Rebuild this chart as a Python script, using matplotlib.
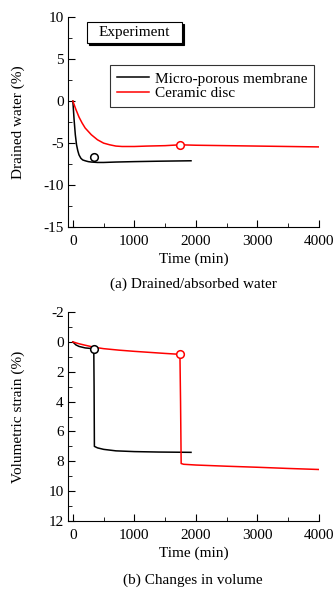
import matplotlib
matplotlib.use("Agg")
import matplotlib.pyplot as plt
from matplotlib.ticker import MultipleLocator
from matplotlib.patches import Rectangle

plt.rcParams['font.family'] = ['Liberation Serif', 'DejaVu Serif']
plt.rcParams['font.size'] = 11
plt.rcParams['axes.unicode_minus'] = False

# (a) drained water, micro-porous membrane
t_mem = [0, 20, 40, 60, 80, 100, 130, 160, 200, 250, 300, 400, 500, 700, 1000, 1400, 1920]
w_mem = [0, -2.2, -4.0, -5.2, -5.9, -6.4, -6.8, -7.0, -7.1, -7.2, -7.25, -7.3, -7.3, -7.25, -7.2, -7.15, -7.1]
# (a) drained water, ceramic disc
t_cer = [0, 50, 100, 150, 200, 300, 400, 500, 600, 700, 800, 1000, 1200, 1500, 1740, 2000, 2500, 3000, 3500, 4000]
w_cer = [0, -1.0, -1.9, -2.6, -3.2, -4.0, -4.6, -5.0, -5.2, -5.35, -5.4, -5.4, -5.35, -5.3, -5.2, -5.25, -5.3, -5.35, -5.4, -5.45]
# circles marking the collapse
mark_t = [340, 1740]
mark_w = [-6.7, -5.2]

# (b) volumetric strain
tv_mem = [0, 50, 100, 150, 200, 250, 300, 340, 345, 350, 400, 500, 700, 1000, 1400, 1920]
ev_mem = [0, 0.2, 0.3, 0.35, 0.4, 0.42, 0.44, 0.45, 3.0, 7.0, 7.1, 7.2, 7.3, 7.35, 7.38, 7.4]
tv_cer = [0, 100, 200, 340, 500, 750, 1000, 1250, 1500, 1740, 1750, 1760, 1800, 2000, 2500, 3000, 3500, 4000]
ev_cer = [0, 0.12, 0.22, 0.35, 0.45, 0.55, 0.63, 0.7, 0.77, 0.83, 4.0, 8.15, 8.2, 8.25, 8.33, 8.4, 8.48, 8.55]
markv_t = [340, 1740]
markv_e = [0.45, 0.83]

fig = plt.figure(figsize=(3.33, 5.90), dpi=100)
ax1 = fig.add_axes([0.204, 0.615, 0.754, 0.356])
ax2 = fig.add_axes([0.204, 0.117, 0.754, 0.354])


def style(ax):
    for s in ['top', 'right']:
        ax.spines[s].set_visible(False)
    ax.set_xlim(-80, 4000)
    ax.xaxis.set_major_locator(MultipleLocator(1000))
    ax.xaxis.set_minor_locator(MultipleLocator(500))
    ax.tick_params(which='both', direction='in', labelsize=11)
    ax.tick_params(which='major', length=5)
    ax.tick_params(which='minor', length=3)
    ax.tick_params(axis='x', pad=6)
    ax.tick_params(axis='y', pad=3)
    ax.set_xlabel('Time (min)', fontsize=11, labelpad=3)


style(ax1)
ax1.plot(t_mem, w_mem, color='black', lw=1.1, label='Micro-porous membrane')
ax1.plot(t_cer, w_cer, color='red', lw=1.1, label='Ceramic disc')
ax1.plot(mark_t[0], mark_w[0], 'o', mfc='white', mec='black', ms=5.5, mew=1.1)
ax1.plot(mark_t[1], mark_w[1], 'o', mfc='white', mec='red', ms=5.5, mew=1.1)
ax1.set_ylim(-15, 10)
ax1.yaxis.set_major_locator(MultipleLocator(5))
ax1.yaxis.set_minor_locator(MultipleLocator(2.5))
ax1.set_ylabel('Drained water (%)', fontsize=11)
ax1.yaxis.set_label_coords(-0.172, 0.5)
leg = ax1.legend(loc='upper right', bbox_to_anchor=(0.98, 0.772), frameon=True, fancybox=False,
                 edgecolor='black', fontsize=11, handlelength=2.1, borderpad=0.45,
                 labelspacing=0.05, handletextpad=0.35, borderaxespad=0.0)
leg.get_frame().set_linewidth(0.8)
leg.get_frame().set_boxstyle('square', pad=0.0)

# "Experiment" label box with a drop shadow
ax1.add_patch(Rectangle((0.084, 0.866), 0.378, 0.10, transform=ax1.transAxes,
                        fc='black', ec='black', lw=0.8, clip_on=False, zorder=3))
ax1.add_patch(Rectangle((0.076, 0.876), 0.378, 0.10, transform=ax1.transAxes,
                        fc='white', ec='black', lw=0.8, clip_on=False, zorder=4))
ax1.text(0.265, 0.926, 'Experiment', transform=ax1.transAxes, fontsize=11,
         ha='center', va='center', zorder=5)

style(ax2)
ax2.plot(tv_mem, ev_mem, color='black', lw=1.1)
ax2.plot(tv_cer, ev_cer, color='red', lw=1.1)
ax2.plot(markv_t[0], markv_e[0], 'o', mfc='white', mec='black', ms=5.5, mew=1.1)
ax2.plot(markv_t[1], markv_e[1], 'o', mfc='white', mec='red', ms=5.5, mew=1.1)
ax2.set_ylim(12, -2)
ax2.yaxis.set_major_locator(MultipleLocator(2))
ax2.yaxis.set_minor_locator(MultipleLocator(1))
ax2.set_ylabel('Volumetric strain (%)', fontsize=11)
ax2.yaxis.set_label_coords(-0.172, 0.5)

fig.text(0.58, 0.519, '(a) Drained/absorbed water', ha='center', va='center', fontsize=11)
fig.text(0.578, 0.016, '(b) Changes in volume', ha='center', va='center', fontsize=11)

fig.savefig('out.png', dpi=100)
